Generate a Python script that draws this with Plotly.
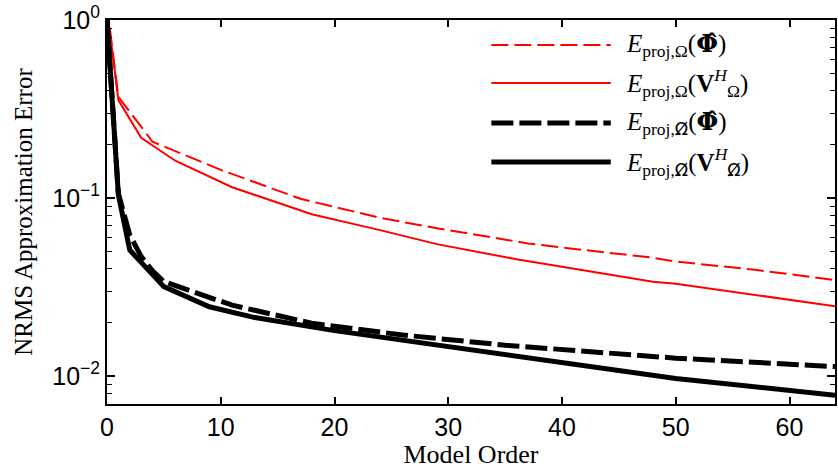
import plotly.graph_objects as go

# ---- data ----
x_red_solid = [0, 1, 3, 6, 11, 18, 24, 29, 36, 40, 48, 50, 57, 64]
y_red_solid = [1.15, 0.355, 0.218, 0.162, 0.115, 0.081, 0.066, 0.0551, 0.0453, 0.041, 0.0339, 0.0330, 0.0285, 0.0247]

x_red_dash = [0, 1, 4, 10, 17, 24, 29, 37, 42, 48, 50, 57, 64]
y_red_dash = [1.2, 0.37, 0.207, 0.144, 0.099, 0.0775, 0.0676, 0.0556, 0.051, 0.0462, 0.044, 0.0395, 0.0346]

x_blk_solid = [0, 1, 2, 5, 9, 13, 20, 29, 35, 50, 64]
y_blk_solid = [1.0, 0.104, 0.051, 0.0318, 0.0245, 0.0213, 0.0180, 0.0149, 0.0131, 0.0097, 0.0078]

x_blk_dash = [0, 1, 2, 3, 4, 5, 11, 18, 26, 35, 50, 64]
y_blk_dash = [1.0, 0.106, 0.062, 0.047, 0.039, 0.0339, 0.025, 0.0198, 0.017, 0.0149, 0.0126, 0.0113]

PHI = "<span style='font-family:DejaVu Serif'><b>Φ̂</b></span>"
OMS = "<span style='font-family:DejaVu Sans'>Ω\u0338</span>"
legend_labels = [
    "<i>E</i><sub>proj,Ω</sub>(" + PHI + ")",
    "<i>E</i><sub>proj,Ω</sub>(<b>V</b><sup><i>H</i></sup><sub>Ω</sub>)",
    "<i>E</i><sub>proj," + OMS + "</sub>(" + PHI + ")",
    "<i>E</i><sub>proj," + OMS + "</sub>(<b>V</b><sup><i>H</i></sup><sub>" + OMS + "</sub>)",
]

x_tickvals = [0, 10, 20, 30, 40, 50, 60]
y_tickvals = [1, 0.1, 0.01]
y_ticktext = ["10<sup>0</sup>", "10<sup>−1</sup>", "10<sup>−2</sup>"]
y_minorvals = [0.007, 0.008, 0.009,
               0.02, 0.03, 0.04, 0.05, 0.06, 0.07, 0.08, 0.09,
               0.2, 0.3, 0.4, 0.5, 0.6, 0.7, 0.8, 0.9]

RED = "#ff0000"
BLK = "#000000"
styles = [
    dict(color=RED, width=2, dash="17px,6px"),
    dict(color=RED, width=2, dash="solid"),
    dict(color=BLK, width=5, dash="22px,6px"),
    dict(color=BLK, width=5, dash="solid"),
]

fig = go.Figure()
series = [(x_red_dash, y_red_dash), (x_red_solid, y_red_solid),
          (x_blk_dash, y_blk_dash), (x_blk_solid, y_blk_solid)]
for (xs, ys), st, name in zip(series, styles, legend_labels):
    fig.add_trace(go.Scatter(x=xs, y=ys, mode="lines", line=st, name=name,
                             showlegend=False, hoverinfo="skip"))

# manual legend (long line samples like the reference)
leg_y = [0.935, 0.836, 0.732, 0.630]
for st, ly, lab in zip(styles, leg_y, legend_labels):
    fig.add_shape(type="line", xref="paper", yref="paper",
                  x0=0.528, x1=0.692, y0=ly, y1=ly, line=st)
    fig.add_annotation(xref="paper", yref="paper", x=0.710, y=ly,
                       xanchor="left", yanchor="middle", showarrow=False,
                       text=lab,
                       font=dict(family="Liberation Serif", size=25, color="black"))

fig.update_layout(
    width=838, height=469,
    margin=dict(l=107, r=1, t=20, b=65),
    paper_bgcolor="white", plot_bgcolor="white",
    font=dict(family="Liberation Sans", size=25, color="black"),
)
fig.update_xaxes(
    range=[0, 64], tickmode="array", tickvals=x_tickvals,
    ticks="inside", ticklen=7, tickwidth=1.5, tickcolor="black",
    showline=True, linewidth=2, linecolor="black", mirror="allticks",
    showgrid=False, zeroline=False,
    tickfont=dict(family="Liberation Sans", size=25),
    title=dict(text="Model Order", font=dict(family="Liberation Serif", size=26), standoff=6),
)
fig.update_yaxes(
    type="log", range=[-2.157, 0], tickmode="array",
    tickvals=y_tickvals, ticktext=y_ticktext,
    ticks="inside", ticklen=8, tickwidth=1.5, tickcolor="black",
    minor=dict(tickmode="array", tickvals=y_minorvals, ticks="inside",
               ticklen=5, tickwidth=1.2, tickcolor="black", showgrid=False),
    showline=True, linewidth=2, linecolor="black", mirror="allticks",
    showgrid=False, zeroline=False,
    tickfont=dict(family="Liberation Sans", size=25),
    title=dict(text="NRMS Approximation Error", font=dict(family="Liberation Serif", size=25), standoff=12),
)

fig.write_html("out.html", config={"displayModeBar": False},
               post_script="document.body.style.margin='0';")
